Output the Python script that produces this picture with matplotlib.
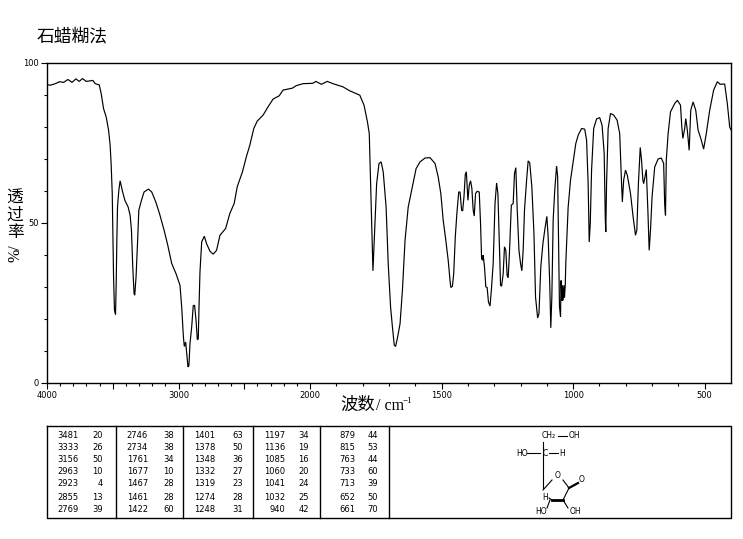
import matplotlib
matplotlib.use("Agg")
import matplotlib.pyplot as plt
import numpy as np

plt.rcParams['font.family'] = ['Noto Sans CJK SC', 'DejaVu Sans']

# 스펙트럼 값 (wavenumber, %T)
wavenumber = [4000, 3975, 3937, 3904, 3874, 3841, 3810, 3780, 3755, 3730, 3702, 3651, 3633, 3603, 3588, 3570,
              3550, 3532, 3520, 3512, 3504, 3499, 3494, 3487, 3479, 3474, 3469, 3464, 3454, 3444, 3428, 3408,
              3383, 3368, 3358, 3348, 3338, 3333, 3323, 3312, 3302, 3282, 3262, 3229, 3204, 3173, 3145, 3110,
              3082, 3052, 3019, 2989, 2976, 2963, 2956, 2946, 2938, 2928, 2921, 2913, 2900, 2888, 2878, 2867,
              2857, 2850, 2845, 2837, 2824, 2804, 2787, 2761, 2736, 2711, 2685, 2642, 2610, 2577, 2554, 2514,
              2483, 2458, 2428, 2402, 2357, 2319, 2281, 2235, 2205, 2134, 2104, 2053, 1990, 1978, 1957, 1935,
              1913, 1875, 1850, 1811, 1795, 1782, 1775, 1770, 1765, 1761, 1754, 1747, 1738, 1730, 1722, 1711,
              1703, 1694, 1687, 1680, 1675, 1667, 1658, 1649, 1639, 1627, 1614, 1597, 1582, 1563, 1544, 1525,
              1513, 1503, 1494, 1484, 1475, 1468, 1465, 1459, 1454, 1448, 1442, 1435, 1430, 1424, 1420, 1415,
              1410, 1406, 1402, 1400, 1395, 1390, 1385, 1380, 1376, 1371, 1365, 1357, 1352, 1348, 1344, 1342,
              1337, 1332, 1327, 1322, 1316, 1311, 1304, 1297, 1291, 1286, 1281, 1276, 1272, 1266, 1261, 1256,
              1251, 1247, 1242, 1235, 1228, 1223, 1218, 1213, 1206, 1200, 1195, 1190, 1185, 1177, 1171, 1165,
              1157, 1149, 1143, 1135, 1130, 1123, 1115, 1108, 1100, 1095, 1089, 1085, 1081, 1076, 1070, 1063,
              1059, 1056, 1052, 1048, 1046, 1043, 1041, 1038, 1035, 1033, 1030, 1028, 1019, 1010, 1000, 990,
              981, 968, 956, 949, 943, 939, 935, 930, 922, 911, 899, 890, 882, 878, 876, 873,
              867, 858, 846, 833, 823, 816, 813, 808, 801, 794, 782, 772, 763, 758, 752, 745,
              740, 735, 732, 727, 722, 716, 711, 706, 700, 690, 677, 665, 656, 652, 649, 646,
              639, 630, 614, 604, 592, 587, 583, 576, 572, 566, 559, 553, 544, 534, 525, 513,
              504, 494, 481, 466, 452, 441, 424, 414, 405, 401]
transmittance = [93.1, 92.9, 93.4, 94.0, 93.8, 94.7, 93.8, 94.9, 94.1, 95.0, 94.1, 94.4, 93.4, 93.0, 90.3, 85.6,
                 83.0, 78.9, 74.2, 68.0, 59.1, 46.6, 33.1, 22.7, 21.4, 31.0, 44.5, 54.9, 60.1, 63.1, 60.1, 57.0,
                 54.9, 52.3, 47.7, 36.2, 27.9, 27.4, 33.1, 43.5, 53.9, 57.0, 59.6, 60.5, 59.6, 56.5, 52.9, 47.7,
                 43.0, 37.3, 34.1, 30.5, 23.7, 14.4, 11.4, 12.8, 9.2, 5.0, 5.5, 12.3, 17.5, 24.2, 24.2, 19.6,
                 13.5, 13.8, 22.7, 34.7, 44.0, 45.8, 43.5, 41.1, 40.2, 41.4, 46.1, 48.2, 52.9, 56.0, 61.2, 65.9,
                 70.8, 74.2, 79.4, 81.7, 83.6, 86.2, 88.6, 89.6, 91.4, 92.0, 92.8, 93.4, 93.5, 94.1, 93.2, 94.1,
                 93.4, 92.4, 91.2, 89.8, 86.7, 81.5, 77.8, 62.2, 47.7, 35.0, 48.7, 62.2, 68.5, 69.0, 65.9, 54.9,
                 37.3, 23.7, 17.5, 11.8, 11.4, 14.4, 18.5, 28.9, 44.5, 54.9, 60.1, 66.9, 69.0, 70.2, 70.3, 68.5,
                 64.3, 59.1, 50.8, 44.5, 38.3, 32.0, 29.8, 30.2, 34.1, 45.6, 52.9, 59.6, 59.6, 53.9, 53.7, 58.1,
                 65.1, 65.9, 60.1, 57.0, 61.7, 63.1, 60.7, 53.9, 52.1, 59.1, 59.8, 59.6, 49.7, 38.8, 38.3, 39.9,
                 36.2, 30.0, 29.8, 25.3, 24.0, 28.9, 37.3, 56.0, 62.4, 59.1, 44.5, 30.5, 30.2, 34.1, 42.5, 41.4,
                 33.6, 32.8, 40.9, 55.5, 56.0, 65.3, 67.2, 54.9, 41.4, 37.3, 35.0, 41.4, 53.9, 63.3, 69.3, 68.7,
                 61.2, 46.6, 26.8, 20.3, 21.6, 36.2, 43.5, 47.7, 52.0, 45.6, 31.0, 17.2, 26.8, 50.8, 60.1, 67.7,
                 64.5, 46.6, 23.9, 20.6, 32.0, 25.6, 30.5, 25.8, 30.5, 26.6, 30.5, 37.3, 54.9, 63.3, 69.0, 74.7,
                 77.3, 79.4, 79.2, 75.8, 62.2, 44.0, 49.7, 66.4, 79.4, 82.4, 82.8, 80.4, 71.6, 51.8, 47.1, 62.2,
                 79.4, 84.1, 83.6, 82.0, 77.8, 62.2, 56.5, 63.3, 66.4, 64.8, 59.1, 51.8, 46.1, 47.7, 62.2, 73.5,
                 69.5, 63.3, 62.2, 64.3, 66.6, 53.9, 41.4, 47.7, 58.1, 67.4, 69.9, 70.2, 68.5, 55.5, 52.3, 69.5,
                 77.8, 84.6, 87.2, 88.2, 86.7, 79.9, 76.3, 79.4, 82.5, 78.9, 72.6, 85.1, 87.7, 85.1, 78.9, 75.8,
                 73.0, 77.8, 85.1, 91.4, 94.0, 93.2, 93.3, 87.2, 79.9, 79.1]

peak_cols = [
    [("3481", "20"), ("3333", "26"), ("3156", "50"), ("2963", "10"), ("2923", "4"), ("2855", "13"), ("2769", "39")],
    [("2746", "38"), ("2734", "38"), ("1761", "34"), ("1677", "10"), ("1467", "28"), ("1461", "28"), ("1422", "60")],
    [("1401", "63"), ("1378", "50"), ("1348", "36"), ("1332", "27"), ("1319", "23"), ("1274", "28"), ("1248", "31")],
    [("1197", "34"), ("1136", "19"), ("1085", "16"), ("1060", "20"), ("1041", "24"), ("1032", "25"), ("940", "42")],
    [("879", "44"), ("815", "53"), ("763", "44"), ("733", "60"), ("713", "39"), ("652", "50"), ("661", "70")],
]
peak_x = [(79, 103), (148, 174), (215, 243), (285, 309), (355, 378)]
row_y = [436, 448, 460, 472, 484, 497, 509]
dividers = [116, 183, 253, 320, 389]

W, H = 743, 539
fig = plt.figure(figsize=(W / 100, H / 100), dpi=100)


# 2000 위쪽은 눈금 간격이 절반
def forward(v):
    v = np.asarray(v, dtype=float)
    return np.where(v >= 2000, 2000 + (v - 2000) / 2, v)


def inverse(p):
    p = np.asarray(p, dtype=float)
    return np.where(p >= 2000, 2000 + (p - 2000) * 2, p)


x0, x1, y0, y1 = 47, 731, 62.5, 383
ax = fig.add_axes([x0 / W, 1 - y1 / H, (x1 - x0) / W, (y1 - y0) / H])
ax.set_xscale('function', functions=(forward, inverse))
ax.plot(wavenumber, transmittance, color='black', lw=0.85, solid_joinstyle='miter')
ax.set_xlim(4000, 400)
ax.set_ylim(0, 100)

ax.set_xticks([4000, 3500, 3000, 2500, 2000, 1500, 1000, 500])
ax.set_xticklabels(['4000', '', '3000', '', '2000', '1500', '1000', '500'], fontsize=6, family='DejaVu Sans')
minor_x = [v for v in range(3900, 400, -100) if v % 500 != 0]
ax.set_xticks(minor_x, minor=True)
ax.set_yticks([0, 50, 100])
ax.set_yticklabels(['0', '50', '100'], fontsize=6, family='DejaVu Sans')
ax.set_yticks(np.arange(10, 100, 10), minor=True)
ax.tick_params(axis='both', which='major', length=4, width=0.8, pad=2)
ax.tick_params(axis='both', which='minor', length=2, width=0.8)
for s in ax.spines.values():
    s.set_linewidth(1.0)

# 나머지 글자, 표, 구조식은 픽셀 좌표로
ov = fig.add_axes([0, 0, 1, 1], facecolor='none')
ov.set_xlim(0, W)
ov.set_ylim(H, 0)
ov.axis('off')

ov.text(37, 36, "石蜡糊法", fontsize=12.8, ha='left', va='center')
for ch, yy in zip("透过率", [198, 215, 232]):
    ov.text(15, yy, ch, fontsize=12, ha='center', va='center')
ov.text(15, 253, "%/", fontsize=11.5, rotation=90, ha='center', va='center', family='Liberation Serif')
ov.text(340, 405, "波数", fontsize=12.5, ha='left', va='center')
ov.text(376, 406, "/ cm", fontsize=11.5, ha='left', va='center', family='Liberation Serif')
ov.text(403, 401, "−1", fontsize=6.5, ha='left', va='center', family='Liberation Serif')

ov.plot([47, 731, 731, 47, 47], [426, 426, 518, 518, 426], color='black', lw=1.0)
for d in dividers:
    ov.plot([d, d], [426, 518], color='black', lw=1.0)
for col, (xa, xb) in zip(peak_cols, peak_x):
    for (wn, t), yy in zip(col, row_y):
        ov.text(xa, yy, wn, fontsize=6, family='DejaVu Sans', ha='right', va='center')
        ov.text(xb, yy, t, fontsize=6, family='DejaVu Sans', ha='right', va='center')

# 구조식
bonds = [(543, 442, 543, 488), (558, 436, 567, 436), (527, 453, 540, 453), (549, 453, 558, 453),
         (543, 490, 552, 480), (563, 480, 569, 488), (549, 498, 552, 500), (569, 488, 563, 500),
         (563, 500, 568, 508), (550, 500, 547, 508)]
for b in bonds:
    ov.plot([b[0], b[2]], [b[1], b[3]], color='black', lw=0.8)
ov.plot([552, 563], [500, 500], color='black', lw=2)
ov.plot([569, 578], [488, 483], color='black', lw=1.6)
labels = [(549, 436, "CH₂"), (574, 436, "OH"), (522, 453, "HO"), (545, 453, "C"), (562, 453, "H"),
          (558, 475, "O"), (582, 479, "O"), (545, 497, "H"), (541, 512, "HO"), (575, 512, "OH")]
for lx, ly, s in labels:
    ov.text(lx, ly, s, fontsize=5.5, family='DejaVu Sans', ha='center', va='center')

fig.savefig('out.png', dpi=100)
